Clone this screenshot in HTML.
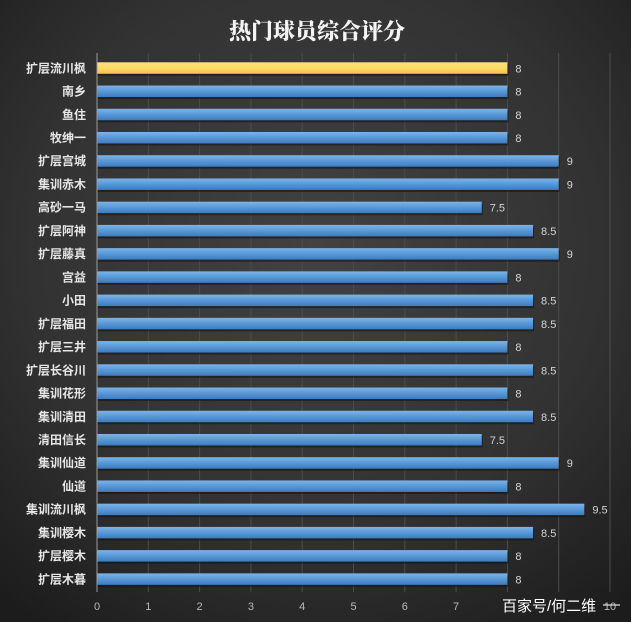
<!DOCTYPE html>
<html><head><meta charset="utf-8"><style>
html,body{margin:0;padding:0;background:#2a2a2a;}
svg{display:block;}
.lb{font-family:'Liberation Sans','Noto Sans CJK SC',sans-serif;font-size:12px;font-weight:bold;fill:#e6e6e6;text-anchor:end;}
.vl{font-family:'Liberation Sans','Noto Sans CJK SC',sans-serif;font-size:11px;fill:#d4d4d4;}
.sh{fill:#111;opacity:0.55;}
</style></head><body>
<svg width="631" height="622" xmlns="http://www.w3.org/2000/svg">
<defs>
<radialGradient id="bg" cx="50%" cy="40%" r="75%">
<stop offset="0" stop-color="#424242"/>
<stop offset="0.6" stop-color="#323232"/>
<stop offset="1" stop-color="#1c1c1c"/>
</radialGradient>
<linearGradient id="blue" x1="0" y1="0" x2="0" y2="1">
<stop offset="0" stop-color="#7db4e8"/>
<stop offset="0.45" stop-color="#5b9bd8"/>
<stop offset="1" stop-color="#3d7bbf"/>
</linearGradient>
<linearGradient id="yellow" x1="0" y1="0" x2="0" y2="1">
<stop offset="0" stop-color="#ffe07e"/>
<stop offset="0.5" stop-color="#ffd865"/>
<stop offset="1" stop-color="#f0c34d"/>
</linearGradient>
</defs>
<rect width="631" height="622" fill="url(#bg)"/>
<text x="317" y="39" text-anchor="middle" font-family="'Liberation Serif','Noto Serif CJK SC',serif" font-weight="900" font-size="22" fill="#f4f4f4">热门球员综合评分</text>
<g stroke="#4c4c4c" stroke-width="1">
<line x1="148.3" y1="53" x2="148.3" y2="592"/>
<line x1="199.6" y1="53" x2="199.6" y2="592"/>
<line x1="250.9" y1="53" x2="250.9" y2="592"/>
<line x1="302.2" y1="53" x2="302.2" y2="592"/>
<line x1="353.5" y1="53" x2="353.5" y2="592"/>
<line x1="404.8" y1="53" x2="404.8" y2="592"/>
<line x1="456.1" y1="53" x2="456.1" y2="592"/>
<line x1="507.4" y1="53" x2="507.4" y2="592"/>
<line x1="558.7" y1="53" x2="558.7" y2="592"/>
<line x1="610" y1="53" x2="610" y2="592"/>
</g>

<g transform="translate(0,62.3)"><rect class="sh" x="97" y="2" width="411.4" height="11.5"/><rect x="97" y="0" width="410.4" height="11.5" fill="url(#yellow)"/><text class="lb" x="86" y="10">扩层流川枫</text><text class="vl" x="515.4" y="10">8</text></g>
<g transform="translate(0,85.53)"><rect class="sh" x="97" y="2" width="411.4" height="11.5"/><rect x="97" y="0" width="410.4" height="11.5" fill="url(#blue)"/><text class="lb" x="86" y="10">南乡</text><text class="vl" x="515.4" y="10">8</text></g>
<g transform="translate(0,108.76)"><rect class="sh" x="97" y="2" width="411.4" height="11.5"/><rect x="97" y="0" width="410.4" height="11.5" fill="url(#blue)"/><text class="lb" x="86" y="10">鱼住</text><text class="vl" x="515.4" y="10">8</text></g>
<g transform="translate(0,131.99)"><rect class="sh" x="97" y="2" width="411.4" height="11.5"/><rect x="97" y="0" width="410.4" height="11.5" fill="url(#blue)"/><text class="lb" x="86" y="10">牧绅一</text><text class="vl" x="515.4" y="10">8</text></g>
<g transform="translate(0,155.22)"><rect class="sh" x="97" y="2" width="462.7" height="11.5"/><rect x="97" y="0" width="461.7" height="11.5" fill="url(#blue)"/><text class="lb" x="86" y="10">扩层宫城</text><text class="vl" x="566.7" y="10">9</text></g>
<g transform="translate(0,178.45)"><rect class="sh" x="97" y="2" width="462.7" height="11.5"/><rect x="97" y="0" width="461.7" height="11.5" fill="url(#blue)"/><text class="lb" x="86" y="10">集训赤木</text><text class="vl" x="566.7" y="10">9</text></g>
<g transform="translate(0,201.68)"><rect class="sh" x="97" y="2" width="385.75" height="11.5"/><rect x="97" y="0" width="384.75" height="11.5" fill="url(#blue)"/><text class="lb" x="86" y="10">高砂一马</text><text class="vl" x="489.75" y="10">7.5</text></g>
<g transform="translate(0,224.91)"><rect class="sh" x="97" y="2" width="437.05" height="11.5"/><rect x="97" y="0" width="436.05" height="11.5" fill="url(#blue)"/><text class="lb" x="86" y="10">扩层阿神</text><text class="vl" x="541.05" y="10">8.5</text></g>
<g transform="translate(0,248.14)"><rect class="sh" x="97" y="2" width="462.7" height="11.5"/><rect x="97" y="0" width="461.7" height="11.5" fill="url(#blue)"/><text class="lb" x="86" y="10">扩层藤真</text><text class="vl" x="566.7" y="10">9</text></g>
<g transform="translate(0,271.37)"><rect class="sh" x="97" y="2" width="411.4" height="11.5"/><rect x="97" y="0" width="410.4" height="11.5" fill="url(#blue)"/><text class="lb" x="86" y="10">宫益</text><text class="vl" x="515.4" y="10">8</text></g>
<g transform="translate(0,294.6)"><rect class="sh" x="97" y="2" width="437.05" height="11.5"/><rect x="97" y="0" width="436.05" height="11.5" fill="url(#blue)"/><text class="lb" x="86" y="10">小田</text><text class="vl" x="541.05" y="10">8.5</text></g>
<g transform="translate(0,317.83)"><rect class="sh" x="97" y="2" width="437.05" height="11.5"/><rect x="97" y="0" width="436.05" height="11.5" fill="url(#blue)"/><text class="lb" x="86" y="10">扩层福田</text><text class="vl" x="541.05" y="10">8.5</text></g>
<g transform="translate(0,341.06)"><rect class="sh" x="97" y="2" width="411.4" height="11.5"/><rect x="97" y="0" width="410.4" height="11.5" fill="url(#blue)"/><text class="lb" x="86" y="10">扩层三井</text><text class="vl" x="515.4" y="10">8</text></g>
<g transform="translate(0,364.29)"><rect class="sh" x="97" y="2" width="437.05" height="11.5"/><rect x="97" y="0" width="436.05" height="11.5" fill="url(#blue)"/><text class="lb" x="86" y="10">扩层长谷川</text><text class="vl" x="541.05" y="10">8.5</text></g>
<g transform="translate(0,387.52)"><rect class="sh" x="97" y="2" width="411.4" height="11.5"/><rect x="97" y="0" width="410.4" height="11.5" fill="url(#blue)"/><text class="lb" x="86" y="10">集训花形</text><text class="vl" x="515.4" y="10">8</text></g>
<g transform="translate(0,410.75)"><rect class="sh" x="97" y="2" width="437.05" height="11.5"/><rect x="97" y="0" width="436.05" height="11.5" fill="url(#blue)"/><text class="lb" x="86" y="10">集训清田</text><text class="vl" x="541.05" y="10">8.5</text></g>
<g transform="translate(0,433.98)"><rect class="sh" x="97" y="2" width="385.75" height="11.5"/><rect x="97" y="0" width="384.75" height="11.5" fill="url(#blue)"/><text class="lb" x="86" y="10">清田信长</text><text class="vl" x="489.75" y="10">7.5</text></g>
<g transform="translate(0,457.21)"><rect class="sh" x="97" y="2" width="462.7" height="11.5"/><rect x="97" y="0" width="461.7" height="11.5" fill="url(#blue)"/><text class="lb" x="86" y="10">集训仙道</text><text class="vl" x="566.7" y="10">9</text></g>
<g transform="translate(0,480.44)"><rect class="sh" x="97" y="2" width="411.4" height="11.5"/><rect x="97" y="0" width="410.4" height="11.5" fill="url(#blue)"/><text class="lb" x="86" y="10">仙道</text><text class="vl" x="515.4" y="10">8</text></g>
<g transform="translate(0,503.67)"><rect class="sh" x="97" y="2" width="488.35" height="11.5"/><rect x="97" y="0" width="487.35" height="11.5" fill="url(#blue)"/><text class="lb" x="86" y="10">集训流川枫</text><text class="vl" x="592.35" y="10">9.5</text></g>
<g transform="translate(0,526.9)"><rect class="sh" x="97" y="2" width="437.05" height="11.5"/><rect x="97" y="0" width="436.05" height="11.5" fill="url(#blue)"/><text class="lb" x="86" y="10">集训樱木</text><text class="vl" x="541.05" y="10">8.5</text></g>
<g transform="translate(0,550.13)"><rect class="sh" x="97" y="2" width="411.4" height="11.5"/><rect x="97" y="0" width="410.4" height="11.5" fill="url(#blue)"/><text class="lb" x="86" y="10">扩层樱木</text><text class="vl" x="515.4" y="10">8</text></g>
<g transform="translate(0,573.36)"><rect class="sh" x="97" y="2" width="411.4" height="11.5"/><rect x="97" y="0" width="410.4" height="11.5" fill="url(#blue)"/><text class="lb" x="86" y="10">扩层木暮</text><text class="vl" x="515.4" y="10">8</text></g>

<line x1="97" y1="53" x2="97" y2="592" stroke="#9a9a9a" stroke-width="1"/>
<g font-family="'Liberation Sans','Noto Sans CJK SC',sans-serif" font-size="11" fill="#b8b8b8" text-anchor="middle">
<text x="97" y="610">0</text><text x="148.3" y="610">1</text><text x="199.6" y="610">2</text><text x="250.9" y="610">3</text><text x="302.2" y="610">4</text><text x="353.5" y="610">5</text><text x="404.8" y="610">6</text><text x="456.1" y="610">7</text><text x="610" y="610">10</text>
</g>
<line x1="603" y1="605" x2="620" y2="605" stroke="#dddddd" stroke-width="1.2"/>
<text x="502" y="611" font-family="'Liberation Sans','Noto Sans CJK SC',sans-serif" font-size="15" fill="#ffffff">百家号/何二维</text>
</svg>
</body></html>
